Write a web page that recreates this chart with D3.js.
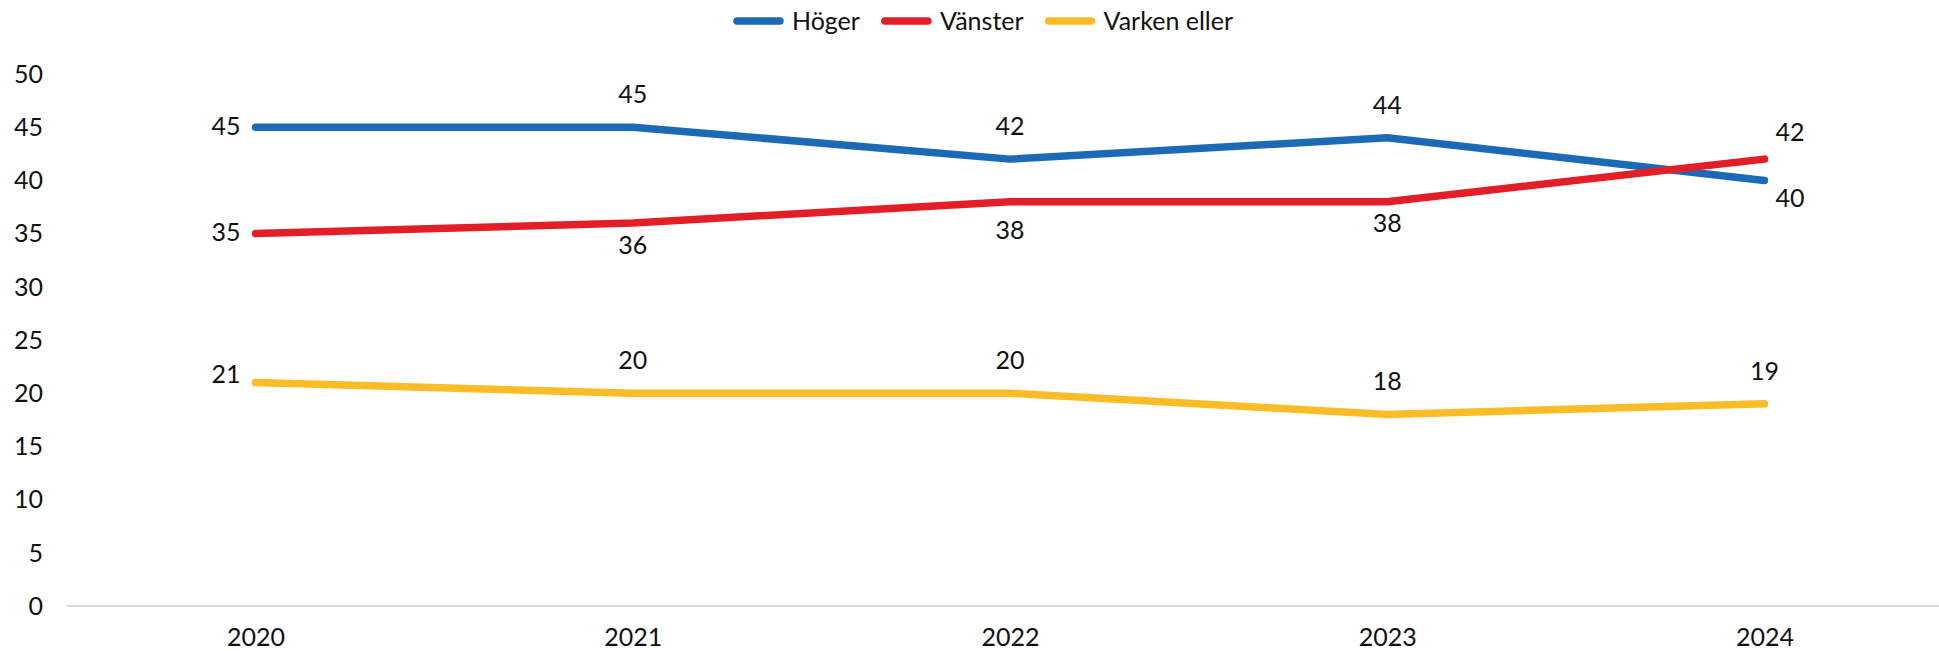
<!DOCTYPE html>
<html>
<head>
<meta charset="utf-8">
<script src="https://cdn.jsdelivr.net/npm/d3@7"></script>
<style>
  body { margin: 0; background: #fff; }
  text { font-family: Lato, "Noto Sans", sans-serif; fill: #111; }
</style>
</head>
<body>
<script>
// data
var years = ["2020", "2021", "2022", "2023", "2024"];
var seriesNames = ["Höger", "Vänster", "Varken eller"];
var hoger = [45, 45, 42, 44, 40];
var vanster = [35, 36, 38, 38, 42];
var varken = [21, 20, 20, 18, 19];
var yTicks = [0, 5, 10, 15, 20, 25, 30, 35, 40, 45, 50];

// where each data label sits relative to its point
var hogerPlace = ["left", "above", "above", "above", "rightBelow"];
var vansterPlace = ["left", "below", "below2", "below", "rightAbove"];
var varkenPlace = ["leftUp", "above", "above", "above", "above"];

var colors = ["#1c6ab5", "#e41e26", "#fbbc28"];

var svgWidth = 1939;
var svgHeight = 651;
var fontSize = "25px";

var svg = d3.select("body")
  .append("svg")
  .attr("width", svgWidth)
  .attr("height", svgHeight);

// scales
var xScale = d3.scalePoint()
  .domain(years)
  .range([67, 1953])
  .padding(0.5);

var yScale = d3.scaleLinear()
  .domain([0, 50])
  .range([606, 74]);

// y tick labels (no axis line)
svg.append("g")
  .selectAll("text")
  .data(yTicks)
  .enter()
  .append("text")
  .attr("x", 43)
  .attr("y", d => yScale(d))
  .attr("dy", "0.35em")
  .attr("text-anchor", "end")
  .style("font-size", fontSize)
  .text(d => d);

// x axis
var xAxis = svg.append("g")
  .attr("transform", `translate(0, ${yScale(0)})`)
  .call(d3.axisBottom(xScale).tickSize(0).tickPadding(22));
xAxis.select(".domain")
  .attr("d", "M67,0H1953")
  .attr("stroke", "#d9d9d9")
  .attr("stroke-width", 2);
xAxis.selectAll("text")
  .style("font-size", fontSize)
  .style("font-family", "Lato, 'Noto Sans', sans-serif")
  .attr("fill", "#111");

// lines
var series = [hoger, vanster, varken];
var places = [hogerPlace, vansterPlace, varkenPlace];

var line = d3.line()
  .x((d, i) => xScale(years[i]))
  .y(d => yScale(d));

svg.append("g")
  .selectAll("path")
  .data(series)
  .enter()
  .append("path")
  .attr("d", line)
  .attr("fill", "none")
  .attr("stroke", (d, i) => colors[i])
  .attr("stroke-width", 7.5)
  .attr("stroke-linecap", "round")
  .attr("stroke-linejoin", "round");

// data labels
var offsets = {
  left: { dx: -15, dy: -1, anchor: "end" },
  leftUp: { dx: -15, dy: -8, anchor: "end" },
  above: { dx: 0, dy: -33, anchor: "middle" },
  below: { dx: 0, dy: 22, anchor: "middle" },
  below2: { dx: 0, dy: 29, anchor: "middle" },
  rightAbove: { dx: 11, dy: -27, anchor: "start" },
  rightBelow: { dx: 11, dy: 18, anchor: "start" }
};

series.forEach(function(vals, s) {
  svg.append("g")
    .selectAll("text")
    .data(vals)
    .enter()
    .append("text")
    .attr("x", (d, i) => xScale(years[i]) + offsets[places[s][i]].dx)
    .attr("y", (d, i) => yScale(d) + offsets[places[s][i]].dy)
    .attr("dy", "0.35em")
    .attr("text-anchor", (d, i) => offsets[places[s][i]].anchor)
    .style("font-size", fontSize)
    .text(d => d);
});

// legend
var legend = svg.append("g");
var lx = 0;
seriesNames.forEach(function(name, i) {
  var item = legend.append("g").attr("transform", `translate(${lx}, 21)`);
  item.append("line")
    .attr("x1", 4).attr("x2", 47)
    .attr("y1", 0).attr("y2", 0)
    .attr("stroke", colors[i])
    .attr("stroke-width", 7.5)
    .attr("stroke-linecap", "round");
  var t = item.append("text")
    .attr("x", 59)
    .attr("y", 0)
    .attr("dy", "0.35em")
    .style("font-size", fontSize)
    .text(name);
  lx += 59 + t.node().getComputedTextLength() + 21;
});
var legendWidth = lx - 21;
legend.attr("transform", `translate(${983 - legendWidth / 2}, 0)`);
</script>
</body>
</html>
